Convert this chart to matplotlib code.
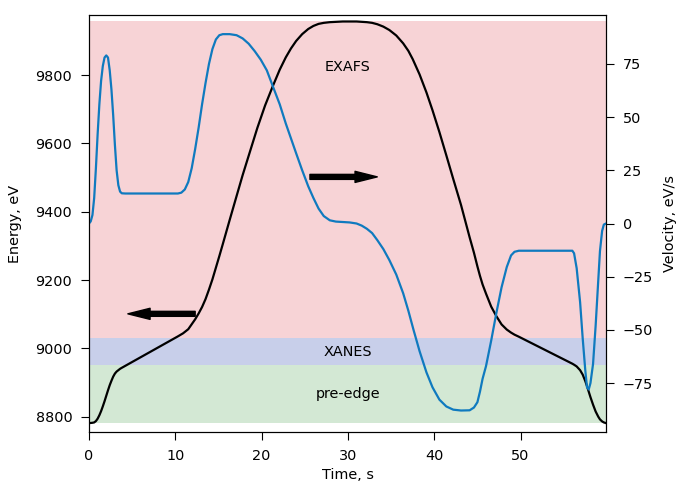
import matplotlib
matplotlib.use('Agg')
import matplotlib.pyplot as plt

# Energy trajectory (black line)
time_e = [0, 0.4, 0.6, 0.8, 1.0, 1.2, 1.4, 1.6, 1.8, 2.0, 2.2, 2.4, 2.6, 2.8,
          3.0, 3.2, 3.4, 3.6, 3.8, 10.3, 10.9, 11.5, 12.3, 12.7, 13.1, 13.5,
          13.9, 14.3, 14.7, 15.1, 15.5, 16.3, 17.1, 17.8, 18.6, 19.5, 20.4,
          21.3, 22.1, 22.8, 23.4, 24.0, 24.7, 25.4, 26.0, 26.6, 27.2, 27.9,
          29.4, 31.0, 31.6, 32.2, 32.8, 33.4, 34.1, 34.8, 35.6, 36.4, 37.0,
          37.5, 38.3, 39.1, 39.8, 40.6, 41.4, 42.2, 43.1, 44.1, 44.6, 45.0,
          45.3, 45.6, 46.0, 46.6, 47.2, 47.8, 48.4, 48.9, 49.3, 49.8, 56.0,
          56.2, 56.5, 56.9, 57.2, 57.5, 57.7, 57.9, 58.1, 58.4, 58.7, 59.0,
          59.2, 59.45, 59.65, 59.9]
energy = [8781, 8782, 8783, 8787, 8794, 8804, 8816, 8830, 8845, 8861, 8877, 8892, 8905, 8917,
          8926, 8932, 8936, 8940, 8943, 9035, 9044, 9056, 9085, 9102, 9121, 9144,
          9172, 9202, 9236, 9270, 9305, 9376, 9446, 9507, 9572, 9645, 9711,
          9768, 9816, 9852, 9878, 9900, 9920, 9935, 9944, 9950, 9953, 9955,
          9957, 9957, 9956, 9955, 9953, 9949, 9942, 9932, 9916, 9893, 9871,
          9847, 9802, 9749, 9697, 9633, 9565, 9496, 9420, 9325, 9280, 9240,
          9212, 9187, 9160, 9122, 9094, 9070, 9055, 9046, 9040, 9034, 8955,
          8952, 8947, 8936, 8923, 8904, 8889, 8873, 8857, 8835, 8815, 8800,
          8792, 8786, 8783, 8781]

# Velocity (blue line)
time_v = [0, 0.2, 0.4, 0.6, 0.8, 1.0, 1.2, 1.4, 1.6, 1.8, 2.0, 2.2, 2.4, 2.6,
          2.8, 3.0, 3.2, 3.4, 3.6, 3.8, 4.2, 10.3, 10.7, 11.1, 11.5, 11.9,
          12.3, 12.7, 13.1, 13.5, 13.9, 14.3, 14.7, 15.1, 15.5, 16.3, 17.1,
          17.8, 18.5, 19.2, 19.9, 20.6, 21.3, 22.1, 22.8, 23.4, 24.0, 24.7,
          25.4, 26.0, 26.6, 27.2, 27.9, 28.6, 29.4, 30.2, 31.0, 31.6, 32.2,
          32.8, 33.4, 34.1, 34.8, 35.6, 36.4, 37.0, 37.6, 38.3, 39.1, 39.8,
          40.6, 41.4, 42.2, 43.1, 44.1, 44.6, 45.0, 45.3, 45.6, 46.0, 46.6,
          47.2, 47.8, 48.4, 48.9, 49.3, 49.8, 56.0, 56.2, 56.5, 56.9, 57.2,
          57.5, 57.7, 57.9, 58.1, 58.4, 58.7, 59.0, 59.2, 59.45, 59.65, 59.9]
velocity = [0, 1, 4, 12, 26, 42, 56, 67, 74, 78, 79, 78, 72, 63,
            51, 37, 25, 18, 15, 14.2, 14.1, 14.1, 14.5, 16, 19.5, 26,
            35, 45, 56, 66, 75, 82, 86.5, 88.5, 89, 89, 88.5,
            87, 84.5, 81, 77, 72, 64.5, 56, 47, 40, 33, 25,
            17.5, 12, 7, 3.5, 1.5, 0.9, 0.7, 0.5, 0, -1, -2.5,
            -4.5, -7.8, -12, -17.2, -24, -32.8, -41, -50, -60, -70, -77,
            -82.8, -86, -87.5, -87.9, -87.8, -86.5, -84, -79, -73, -67, -55,
            -42, -30, -20.5, -15, -13.3, -12.8, -12.8, -14, -21, -37, -54,
            -69, -77, -78, -75, -66, -48, -27, -13, -3.5, -0.5, 0]

# Energy regions
regions = ['pre-edge', 'XANES', 'EXAFS']
region_lo = [8780, 8950, 9030]
region_hi = [8950, 9030, 9958]
region_colors = ['#d3e8d4', '#c8cfea', '#f7d3d6']
label_energy = [8866, 8990, 9825]

plt.rcParams['font.size'] = 10.4
plt.rcParams['xtick.major.size'] = 5.5
plt.rcParams['ytick.major.size'] = 5.5
plt.rcParams['xtick.major.pad'] = 6.5
plt.rcParams['ytick.major.pad'] = 6.5

fig = plt.figure(figsize=(6.78, 4.84), dpi=100)
ax = fig.add_axes([89 / 678, 1 - 432 / 484, 517 / 678, 417 / 484])

t_end = 59.9
for name, lo, hi, c, ye in zip(regions, region_lo, region_hi, region_colors, label_energy):
    ax.fill_between([0, t_end], lo, hi, color=c, lw=0, zorder=0)
    ax.text(30, ye, name, ha='center', va='center')

ax.plot(time_e, energy, color='black', lw=1.6)
ax.set_xlim(0, t_end)
ax.set_ylim(8755, 9976)
ax.set_xlabel('Time, s', labelpad=4)
ax.set_ylabel('Energy, eV', labelpad=10)

# arrows pointing to the axis each line belongs to
ax.annotate('', xy=(4.5, 9101), xytext=(12.3, 9101),
            arrowprops=dict(facecolor='black', edgecolor='black', width=3.6,
                            headwidth=8, headlength=16, shrink=0))
ax.annotate('', xy=(33.4, 9502), xytext=(25.6, 9502),
            arrowprops=dict(facecolor='black', edgecolor='black', width=3.6,
                            headwidth=8, headlength=16, shrink=0))

ax2 = ax.twinx()
ax2.plot(time_v, velocity, color='#0f7abf', lw=1.6)
ax2.set_ylim(-98, 98)
ax2.set_yticks([-75, -50, -25, 0, 25, 50, 75])
ax2.set_ylabel('Velocity, eV/s', labelpad=7)

fig.savefig('out.png', dpi=100)
